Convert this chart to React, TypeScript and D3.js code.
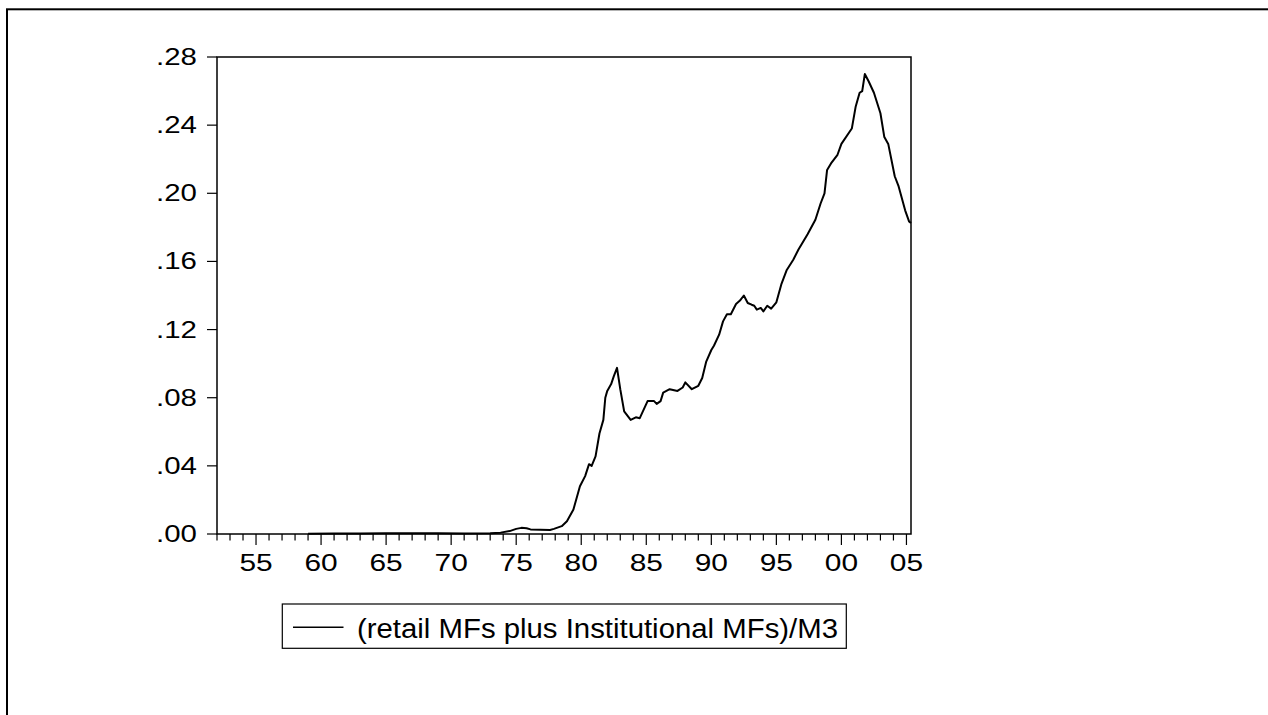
import React from "react";
import * as d3 from "d3";

const dates: number[] = [
  1959.0, 1961.0, 1963.0, 1965.0, 1967.0, 1969.0, 1971.0, 1973.0, 1973.8, 1974.5,
  1975.0, 1975.4, 1975.8, 1976.1, 1977.6, 1977.9, 1978.5, 1978.9, 1979.4, 1979.9,
  1980.3, 1980.6, 1980.8, 1981.1, 1981.4, 1981.7, 1981.85, 1982.0, 1982.3, 1982.5,
  1982.75, 1983.0, 1983.3, 1983.8, 1984.2, 1984.5, 1985.1, 1985.6, 1985.8, 1986.1,
  1986.3, 1986.8, 1987.4, 1987.8, 1988.0, 1988.5, 1989.0, 1989.3, 1989.6, 1990.0,
  1990.2, 1990.6, 1990.9, 1991.2, 1991.5, 1991.9, 1992.2, 1992.5, 1992.8, 1993.1,
  1993.3, 1993.5, 1993.8, 1994.0, 1994.3, 1994.6, 1995.0, 1995.4, 1995.8, 1996.3,
  1996.7, 1997.4, 1998.0, 1998.4, 1998.7, 1998.9, 1999.2, 1999.7, 2000.0, 2000.8,
  2001.1, 2001.4, 2001.6, 2001.8, 2002.1, 2002.5, 2003.0, 2003.3, 2003.6, 2004.1,
  2004.4, 2004.9, 2005.2, 2005.35,
];
const ratio: number[] = [
  0.0002, 0.0003, 0.0003, 0.0004, 0.0004, 0.0004, 0.0003, 0.0004, 0.0008, 0.0017,
  0.003, 0.0036, 0.0034, 0.0027, 0.0024, 0.003, 0.0046, 0.0075, 0.0144, 0.028,
  0.034, 0.041, 0.04, 0.0456, 0.059, 0.067, 0.08, 0.084, 0.088, 0.0925,
  0.0975, 0.085, 0.072, 0.067, 0.0685, 0.068, 0.078, 0.078, 0.0764, 0.078,
  0.083, 0.085, 0.084, 0.086, 0.089, 0.085, 0.087, 0.0916, 0.101, 0.108,
  0.1105, 0.117, 0.1248, 0.129, 0.129, 0.135, 0.137, 0.14, 0.1356, 0.1346,
  0.134, 0.1317, 0.1327, 0.1307, 0.134, 0.1323, 0.136, 0.147, 0.155, 0.161,
  0.167, 0.176, 0.1845, 0.194, 0.2, 0.2137, 0.2175, 0.2226, 0.229, 0.238,
  0.251, 0.259, 0.26, 0.27, 0.2656, 0.259, 0.247, 0.233, 0.229, 0.21,
  0.204, 0.19, 0.1835, 0.1825,
];

const yTicks: number[] = [0, 0.04, 0.08, 0.12, 0.16, 0.2, 0.24, 0.28];
const majorYears: number[] = [1955, 1960, 1965, 1970, 1975, 1980, 1985, 1990, 1995, 2000, 2005];
const minorYears: number[] = d3.range(1952, 2006);
const legendLabel = "(retail MFs plus Institutional MFs)/M3";

const fmtY = (v: number) => (v === 0 ? ".00" : d3.format(".2f")(v).replace(/^0/, ""));
const fmtX = (y: number) => String(y % 100).padStart(2, "0");

export default function App() {
  const left = 217, right = 911, top = 57, bottom = 534;
  const x = d3.scaleLinear().domain([1952, 2005.35]).range([left, right]);
  const y = d3.scaleLinear().domain([0, 0.28]).range([bottom, top]);
  const pts: [number, number][] = dates.map((d, i) => [d, ratio[i]]);
  const line = d3
    .line<[number, number]>()
    .x((p) => x(p[0]))
    .y((p) => y(p[1]));
  const font = "'Liberation Sans', Arial, Helvetica, sans-serif";
  return (
    <svg
      width={1268}
      height={715}
      style={{ position: "absolute", left: 0, top: 0, background: "#fff" }}
    >
      <rect x={0} y={0} width={1268} height={715} fill="#fff" />
      <rect x={7} y={9.3} width={1300} height={740} fill="none" stroke="#000" strokeWidth={2} />
      {/* plot frame */}
      <rect x={left} y={top} width={right - left} height={bottom - top} fill="none" stroke="#000" strokeWidth={1.5} />
      {/* y ticks */}
      {yTicks.map((t) => (
        <g key={"y" + t}>
          <line x1={left - 10} x2={left} y1={y(t)} y2={y(t)} stroke="#000" strokeWidth={1.2} />
          <text
            transform={`translate(${left - 20},${y(t) + 8}) scale(1.28,1)`}
            textAnchor="end"
            fontFamily={font}
            fontSize={23}
            fill="#000"
          >
            {fmtY(t)}
          </text>
        </g>
      ))}
      {/* x ticks */}
      {minorYears.map((yr) => (
        <line
          key={"m" + yr}
          x1={x(yr)}
          x2={x(yr)}
          y1={bottom}
          y2={bottom + (yr % 5 === 0 ? 11 : 6.5)}
          stroke="#000"
          strokeWidth={1.2}
        />
      ))}
      {majorYears.map((yr) => (
        <text
          key={"l" + yr}
          transform={`translate(${x(yr)},571) scale(1.3,1)`}
          textAnchor="middle"
          fontFamily={font}
          fontSize={23}
          fill="#000"
        >
          {fmtX(yr)}
        </text>
      ))}
      {/* series */}
      <path d={line(pts) || ""} fill="none" stroke="#000" strokeWidth={2} strokeLinejoin="round" />
      {/* legend */}
      <rect x={282.3} y={604} width={564} height={44.3} fill="none" stroke="#000" strokeWidth={1.2} />
      <line x1={293} x2={343.5} y1={627.3} y2={627.3} stroke="#000" strokeWidth={1.6} />
      <text
        x={357}
        y={637.5}
        fontFamily={font}
        fontSize={27}
        textLength={481}
        lengthAdjust="spacingAndGlyphs"
        fill="#000"
      >
        {legendLabel}
      </text>
    </svg>
  );
}
